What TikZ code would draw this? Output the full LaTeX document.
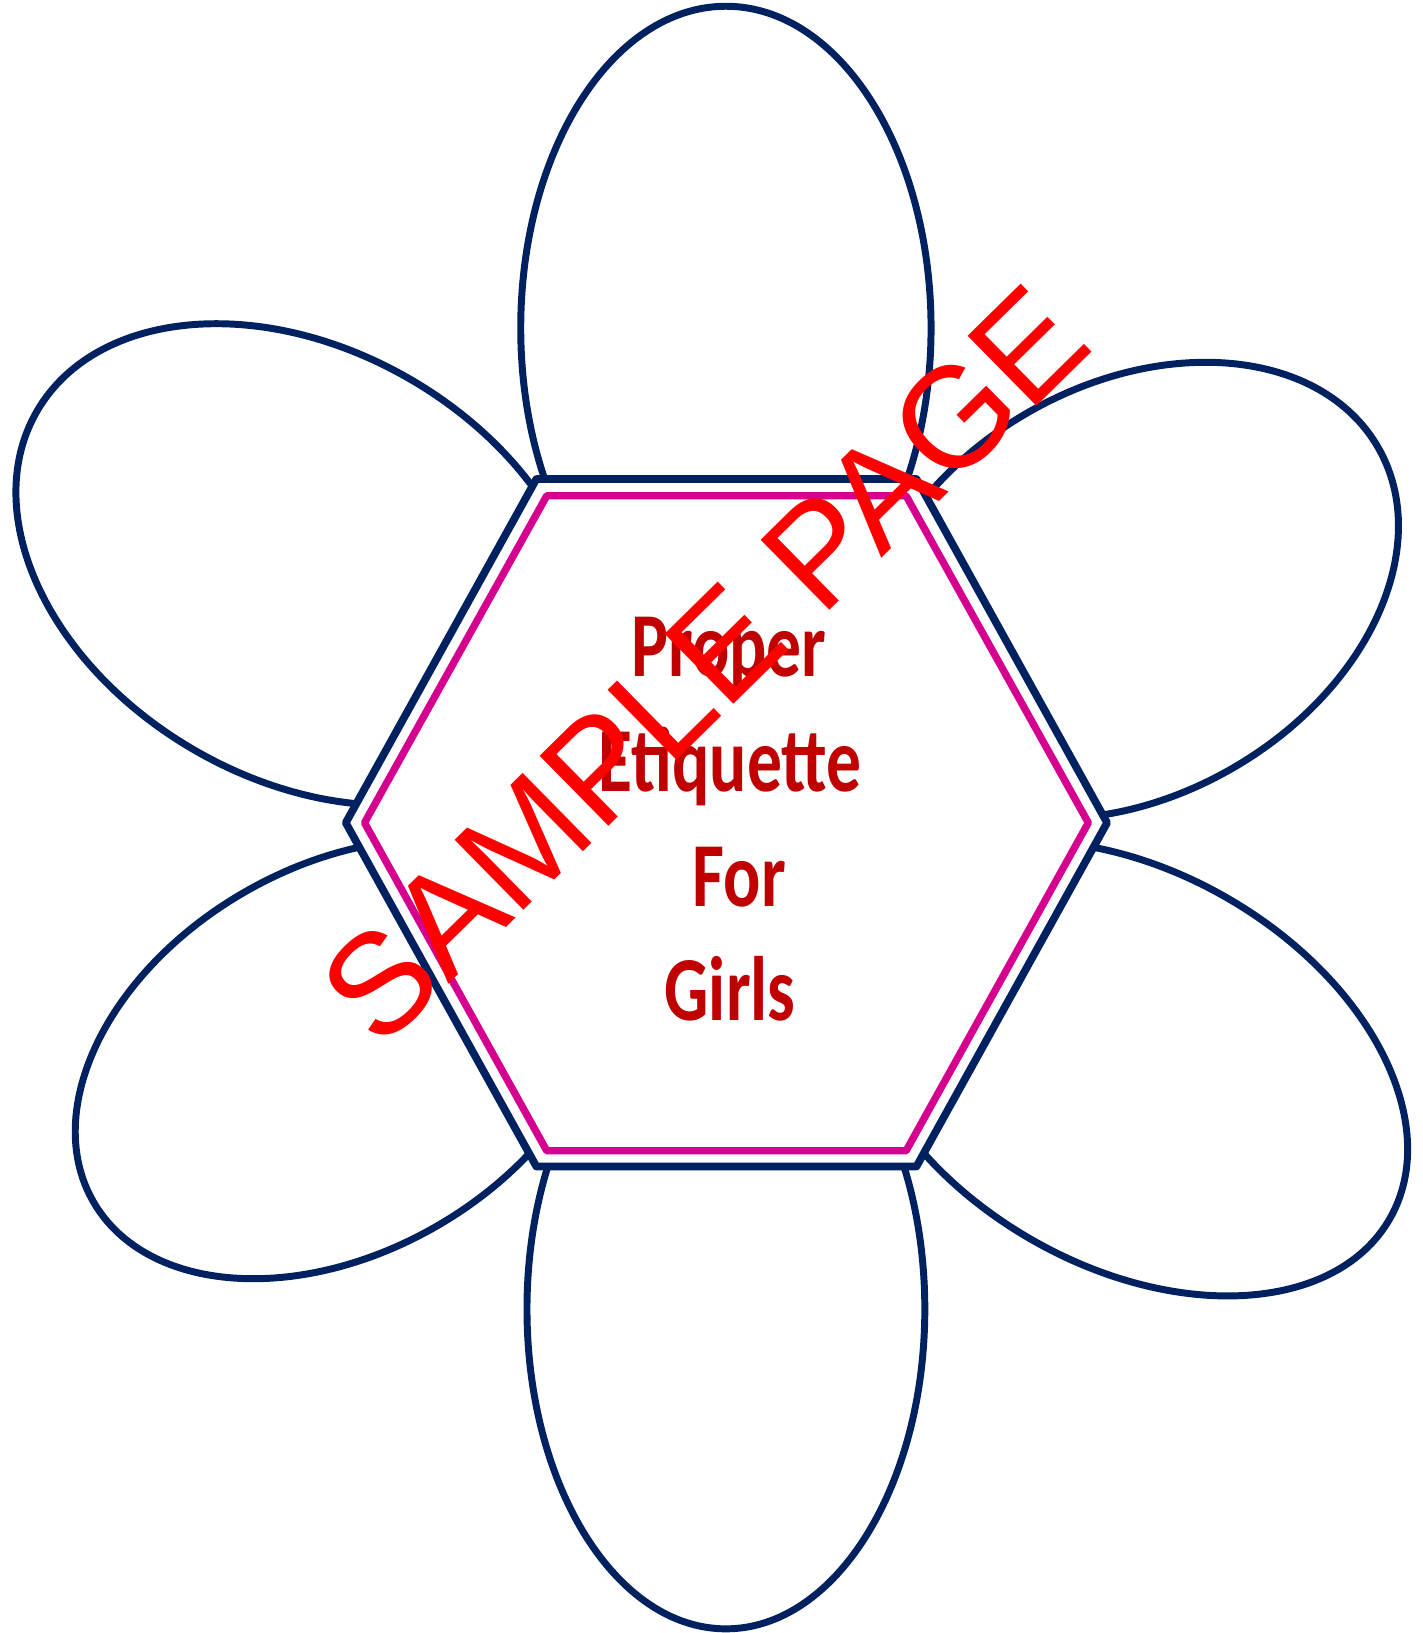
\documentclass[tikz,border=0pt]{standalone}
\usepackage{fontspec}
\setmainfont{Liberation Sans}
\newfontfamily\titlefont[FakeStretch=0.76]{Carlito}
\definecolor{petalnavy}{RGB}{0,33,96}
\definecolor{hexmagenta}{RGB}{213,0,143}
\definecolor{titlered}{RGB}{192,0,0}
\definecolor{stampred}{RGB}{255,0,0}

\begin{document}
\begin{tikzpicture}[
    x=0.02cm, y=-0.02cm,
    petal/.style={draw=petalnavy, line width=3.8pt},
    hexouter/.style={draw=petalnavy, fill=white, line width=4.2pt, line join=round},
    hexinner/.style={draw=hexmagenta, line width=4pt, line join=round},
    title/.style={text=titlered, font=\titlefont\bfseries\fontsize{50}{60}\selectfont, anchor=base, inner sep=0pt},
    stamp/.style={text=stampred, font=\fontsize{78}{90}\selectfont, rotate=44.5, inner sep=0pt}
]
    \useasboundingbox (0,0) rectangle (1366,1568);

    % Petals
    \draw[petal] (697,315) ellipse [x radius=197, y radius=309];
    \draw[petal] (697,1257) ellipse [x radius=191, y radius=307];
    \draw[petal, rotate around={60:(290,542)}] (290,542) ellipse [x radius=206, y radius=294];
    \draw[petal, rotate around={-60:(1085,567)}] (1085,567) ellipse [x radius=197, y radius=275];
    \draw[petal, rotate around={-60:(327,1017)}] (327,1017) ellipse [x radius=185, y radius=274];
    \draw[petal, rotate around={60:(1084,1026)}] (1084,1026) ellipse [x radius=189, y radius=289];

    % Centre hexagons
    \draw[hexouter] (515,460) -- (880,460) -- (1063,790) -- (880,1120) -- (515,1120) -- (332,790) -- cycle;
    \draw[hexinner] (525,476) -- (870,476) -- (1045,790) -- (870,1105) -- (525,1105) -- (350,790) -- cycle;

    % Title
    \node[title] (line1) at (700,650) {Proper};
    \node[title] (line2) at (701,760) {Etiquette};
    \node[title] (line3) at (710,870) {For};
    \node[title] (line4) at (701,980) {Girls};

    % Watermark
    \node[stamp] (stamp) at (676,638) {SAMPLE PAGE};
\end{tikzpicture}
\end{document}
